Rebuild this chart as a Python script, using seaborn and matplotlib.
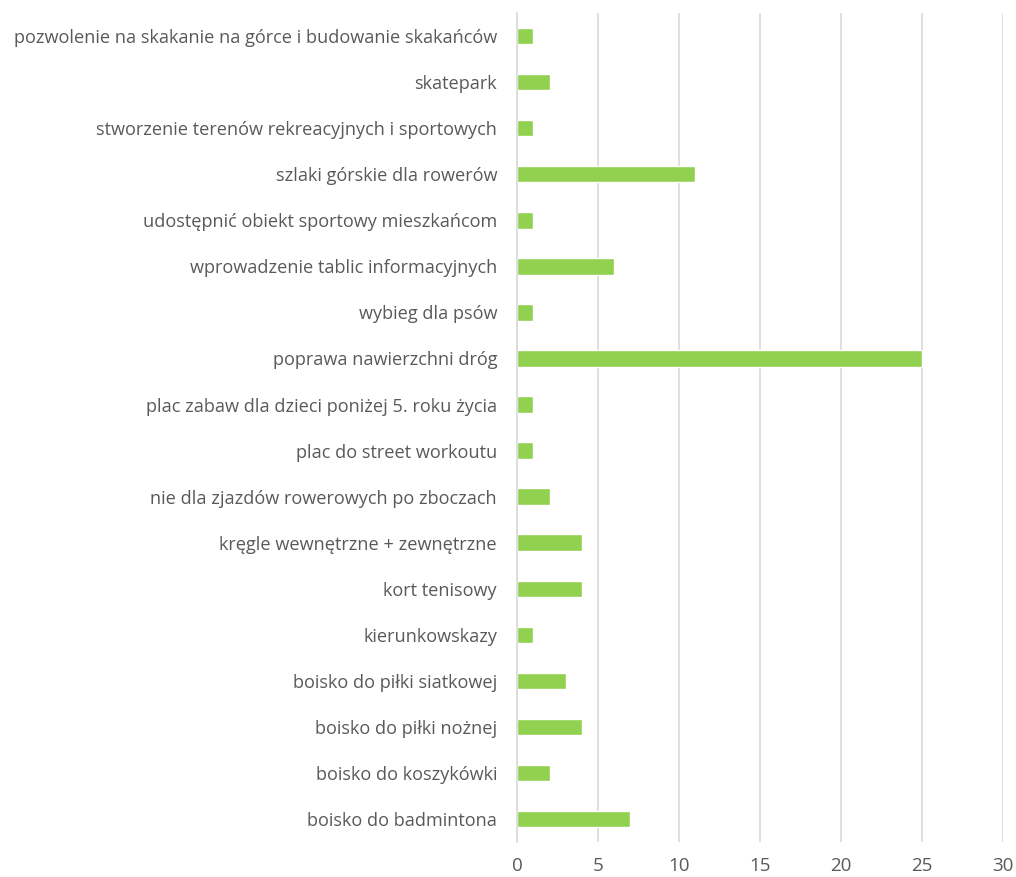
import matplotlib
matplotlib.use("Agg")
import matplotlib.pyplot as plt
import seaborn as sns
import pandas as pd

# Categories (top to bottom) and counts
categories = [
    "pozwolenie na skakanie na górce i budowanie skakańców",
    "skatepark",
    "stworzenie terenów rekreacyjnych i sportowych",
    "szlaki górskie dla rowerów",
    "udostępnić obiekt sportowy mieszkańcom",
    "wprowadzenie tablic informacyjnych",
    "wybieg dla psów",
    "poprawa nawierzchni dróg",
    "plac zabaw dla dzieci poniżej 5. roku życia",
    "plac do street workoutu",
    "nie dla zjazdów rowerowych po zboczach",
    "kręgle wewnętrzne + zewnętrzne",
    "kort tenisowy",
    "kierunkowskazy",
    "boisko do piłki siatkowej",
    "boisko do piłki nożnej",
    "boisko do koszykówki",
    "boisko do badmintona",
]
counts = [1, 2, 1, 11, 1, 6, 1, 25, 1, 1, 2, 4, 4, 1, 3, 4, 2, 7]
x_ticks = [0, 5, 10, 15, 20, 25, 30]

df = pd.DataFrame({"kategoria": categories, "liczba": counts})

sns.set_style("white")
plt.rcParams["font.family"] = ["Open Sans", "DejaVu Sans"]

fig = plt.figure(figsize=(10.16, 8.77), dpi=100)
ax = fig.add_axes([0.509, 0.040, 0.478, 0.945])

sns.barplot(data=df, x="liczba", y="kategoria", color="#92D050",
            width=0.355, saturation=1, ax=ax)

ax.set_xlim(0, 30)
ax.set_xticks(x_ticks)
ax.set_ylim(len(categories) - 0.5, -0.5)
ax.xaxis.grid(True, color="#D9D9D9", linewidth=1.2)
ax.set_axisbelow(True)
for s in ["top", "right", "bottom"]:
    ax.spines[s].set_visible(False)
ax.spines["left"].set_color("#D9D9D9")
ax.spines["left"].set_linewidth(1.2)
ax.tick_params(axis="both", length=0, colors="#595959")
ax.tick_params(axis="y", pad=14.5, labelsize=13.1)
ax.tick_params(axis="x", pad=11, labelsize=13.5)
ax.set_xlabel("")
ax.set_ylabel("")

fig.savefig("out.png", dpi=100)
